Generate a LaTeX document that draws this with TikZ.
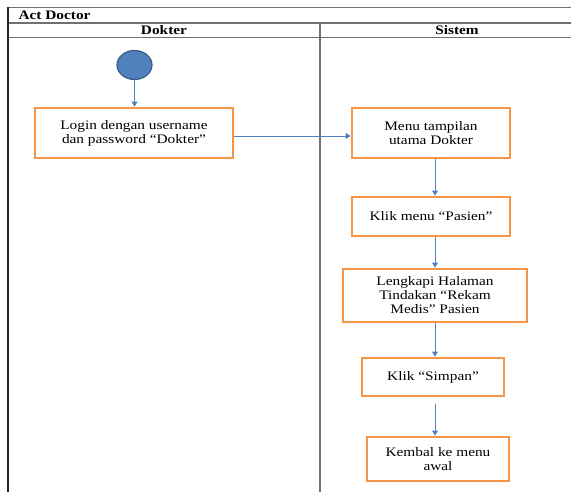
\documentclass[tikz,border=0pt]{standalone}
\usepackage{fontspec}
\setmainfont{Liberation Serif}[FakeStretch=1.18]
\usetikzlibrary{arrows.meta,shapes.geometric}
\definecolor{boxorange}{HTML}{F79646}
\definecolor{flowblue}{HTML}{4F81BD}
\definecolor{darkblue}{HTML}{385D8A}
\definecolor{framegray}{HTML}{707070}
\tikzset{
  every node/.style={font=\fontsize{13}{14}\selectfont},
  actbox/.style={draw=boxorange, line width=2.8pt, fill=white, align=center, inner sep=2pt},
  flow/.style={draw=flowblue, line width=0.9pt, -{Triangle[width=6pt,length=5pt]}},
  frame/.style={draw=framegray, line width=1.4pt},
  lanehead/.style={font=\fontsize{13}{14}\selectfont\bfseries}
}
\begin{document}
\begin{tikzpicture}[x=1pt,y=-1pt]
\useasboundingbox (0,0) rectangle (571,492);
% frame
\draw[frame] (8,7.5) -- (571,7.5);
\draw[frame] (8,23) -- (571,23);
\draw[frame] (8,37.5) -- (571,37.5);
\draw[draw=black!85, line width=1.4pt] (8,7.5) -- (8,492);
\draw[frame] (320,23) -- (320,492);
\node[lanehead, anchor=west] (title) at (15,15.5) {Act Doctor};
\node[lanehead] (dokter) at (164,30.5) {Dokter};
\node[lanehead] (sistem) at (457,30.5) {Sistem};
% start
\node[ellipse, draw=darkblue, line width=1.2pt, fill=flowblue, minimum width=35pt, minimum height=29pt, inner sep=0pt] (start) at (134.5,65) {};
% activities
\node[actbox, minimum width=198pt, minimum height=50pt] (login) at (134,133) {Login dengan username\\dan password “Dokter”};
\node[actbox, minimum width=158pt, minimum height=50pt] (menu) at (431,133) {Menu tampilan\\utama Dokter};
\node[actbox, minimum width=158pt, minimum height=39pt] (klik) at (431,216.5) {Klik menu “Pasien”};
\node[actbox, minimum width=184pt, minimum height=53pt] (lengkapi) at (435,295.5) {Lengkapi Halaman\\Tindakan “Rekam\\Medis” Pasien};
\node[actbox, minimum width=142pt, minimum height=38pt] (simpan) at (433,377) {Klik “Simpan”};
\node[actbox, minimum width=142pt, minimum height=44pt] (kembal) at (438,459) {Kembal ke menu\\awal};
\coordinate (ax) at (435,0);
% connectors
\draw[flow] (start.south) -- (login.north -| start.south);
\draw[flow] ([yshift=-3pt]login.east) -- ([yshift=-3pt]menu.west);
\draw[flow] (menu.south -| ax) -- (klik.north -| ax);
\draw[flow] (klik.south -| ax) -- (lengkapi.north -| ax);
\draw[flow] (lengkapi.south -| ax) -- (simpan.north -| ax);
\draw[flow, shorten <=7pt] (simpan.south -| ax) -- (kembal.north -| ax);
\end{tikzpicture}
\end{document}
